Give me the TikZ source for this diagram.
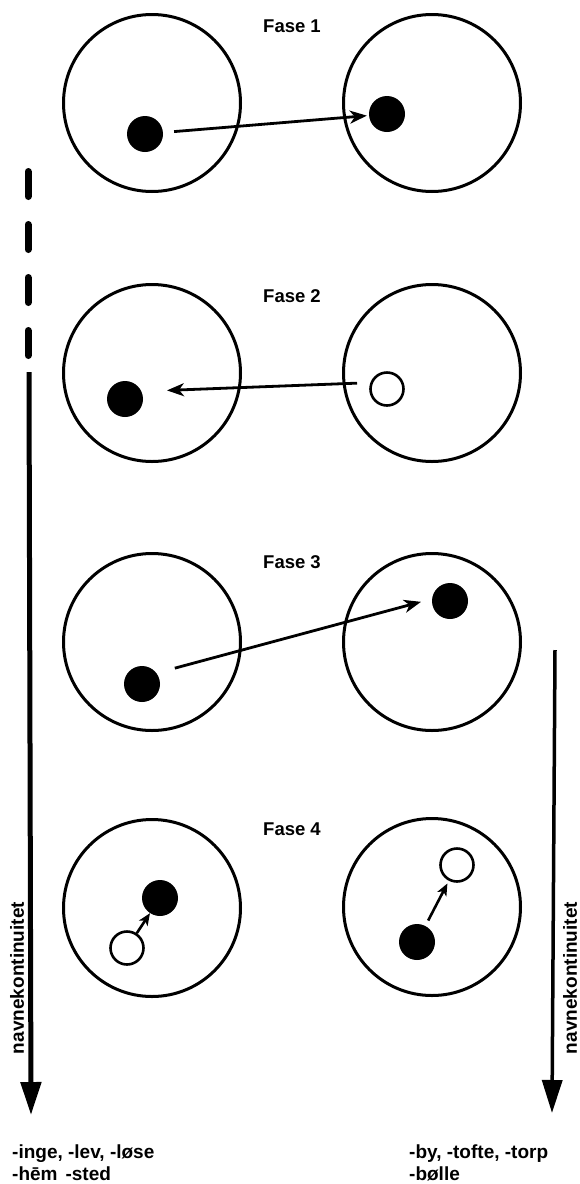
\documentclass[tikz,border=0pt]{standalone}
\usepackage{fontspec}
\setmainfont{Liberation Sans}
\usepackage{tikz}
\usetikzlibrary{arrows.meta,positioning}
\definecolor{inkBlack}{RGB}{0, 0, 0}
\definecolor{paperWhite}{RGB}{255, 255, 255}

\begin{document}
\begin{tikzpicture}[x=1pt, y=-1pt,
    ring/.style={draw=inkBlack, circle, line width=3pt, minimum size=177pt, inner sep=0pt},
    fulldot/.style={circle, fill=inkBlack, minimum size=36pt, inner sep=0pt},
    opendot/.style={circle, draw=inkBlack, fill=paperWhite, line width=2.6pt, minimum size=33pt, inner sep=0pt},
    move/.style={draw=inkBlack, line width=2.8pt, -{Stealth[length=17pt, width=13pt, inset=5pt]}},
    nudge/.style={draw=inkBlack, line width=2.6pt, -{Stealth[length=12pt, width=10pt, inset=3pt]}},
    phase/.style={font=\fontsize{18.5pt}{20pt}\selectfont\bfseries, anchor=base, inner sep=0pt},
    suffix/.style={font=\fontsize{19pt}{22pt}\selectfont\bfseries, align=left, anchor=north west, inner sep=0pt},
    trend/.style={font=\fontsize{19pt}{20pt}\selectfont\bfseries, rotate=90, inner sep=0pt}]
    \useasboundingbox (0,0) rectangle (579,1184);

    \node[ring] (left1) at (152,103) {};
    \node[ring] (right1) at (432,103) {};
    \node[ring] (left2) at (152,373) {};
    \node[ring] (right2) at (432,373) {};
    \node[ring] (left3) at (152,642) {};
    \node[ring] (right3) at (432,642) {};
    \node[ring] (left4) at (152,908) {};
    \node[ring] (right4) at (432,907) {};

    \node[phase] (fase1) at (292,32) {Fase 1};
    \node[phase] (fase2) at (292,302) {Fase 2};
    \node[phase] (fase3) at (292,568) {Fase 3};
    \node[phase] (fase4) at (292,835) {Fase 4};

    \node[fulldot] (from1) at (145,134) {};
    \node[fulldot] (to1) at (387,114) {};
    \draw[move, shorten <=11pt, shorten >=2pt] (from1) -- (to1);

    \node[opendot] (from2) at (387,389) {};
    \node[fulldot] (to2) at (125,399) {};
    \draw[move, shorten <=30pt, shorten >=42pt] ([yshift=7pt]from2.center) -- ([yshift=7pt]to2.center);

    \node[fulldot] (from3) at (142,684) {};
    \node[fulldot] (to3) at (450,601) {};
    \draw[move, shorten <=34pt, shorten >=30pt] ([yshift=7pt]from3.center) -- ([yshift=7pt]to3.center);

    \node[opendot] (fromL4) at (127,948) {};
    \node[fulldot] (toL4) at (160,898) {};
    \draw[nudge] (fromL4) -- (toL4);

    \node[fulldot] (fromR4) at (417,942) {};
    \node[opendot] (toR4) at (457,865) {};
    \draw[nudge, shorten <=6pt, shorten >=3pt] (fromR4) -- (toR4);

    \coordinate (dashtop) at (28,171.5);
    \coordinate (dashend) at (28,360);
    \draw[inkBlack, line width=7pt, line cap=round, dash pattern=on 25pt off 28pt] (dashtop) -- (dashend);
    \coordinate (lefttop) at (29,372);
    \coordinate (lefttip) at (31,1115);
    \draw[inkBlack, line width=5pt, -{Triangle[length=33pt, width=20pt]}] (lefttop) -- (lefttip);
    \coordinate (righttop) at (555,650);
    \coordinate (righttip) at (552,1113);
    \draw[inkBlack, line width=3.5pt, -{Triangle[length=33pt, width=20pt]}] (righttop) -- (righttip);

    \node[trend] (leftname) at (17,978) {navnekontinuitet};
    \node[trend] (rightname) at (570,978) {navnekontinuitet};

    \node[suffix] (leftsuffix) at (12,1145) {-inge, -lev, -løse\\-hēm\hspace{8pt}-sted};
    \node[suffix] (rightsuffix) at (409,1145) {-by, -tofte, -torp\\-bølle};
\end{tikzpicture}
\end{document}
